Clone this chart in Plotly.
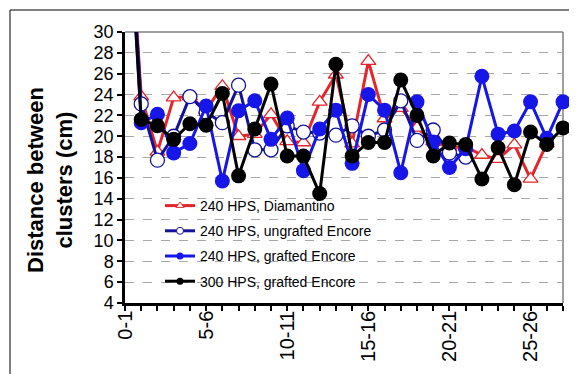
import plotly.graph_objects as go

categories = ["0-1", "1-2", "2-3", "3-4", "4-5", "5-6", "6-7", "7-8", "8-9", "9-10",
              "10-11", "11-12", "12-13", "13-14", "14-15", "15-16", "16-17", "17-18",
              "18-19", "19-20", "20-21", "21-22", "22-23", "23-24", "24-25", "25-26",
              "26-27", "27-28"]
label_every = 5

diamantino_240 = [48, 23.8, 18.5, 23.7, 23.8, 22.5, 24.8, 20.0, 20.2, 22.1,
                  19.5, 19.4, 23.3, 25.9, 19.3, 27.2, 21.7, 22.7, 20.8, 19.5,
                  18.9, 19.0, 18.2, 17.8, 19.2, 15.9, 19.3, None]
ungrafted_240 = [48, 23.1, 17.7, 20.0, 23.8, 22.3, 21.3, 24.9, 18.7, 18.7,
                 21.0, 20.4, 20.3, 20.1, 21.0, 20.0, 20.6, 23.4, 19.6, 20.6,
                 18.4, 18.0, None, None, None, None, None, None]
grafted_240 = [48, 21.3, 22.1, 18.4, 19.3, 22.9, 15.7, 22.45, 23.4, 19.7,
               21.75, 16.7, 20.7, 22.5, 17.4, 24.0, 22.5, 16.5, 23.3, 19.45,
               17.0, 18.8, 25.75, 20.2, 20.5, 23.3, 19.8, 23.3]
grafted_300 = [48, 21.6, 21.0, 19.7, 21.2, 21.05, 24.1, 16.2, 20.7, 25.0,
               18.1, 18.1, 14.5, 26.9, 18.1, 19.4, 19.4, 25.4, 22.0, 18.1,
               19.35, 19.2, 15.9, 18.9, 15.35, 20.4, 19.2, 20.8]

series_names = ["240 HPS, Diamantino", "240 HPS, ungrafted Encore",
                "240 HPS, grafted Encore", "300 HPS, grafted Encore"]

x_idx = list(range(len(categories)))
FONT = "Arial, Liberation Sans, sans-serif"

RED = "#E3262B"
NAVY = "#12129A"
BLUE = "#1616E8"
BLACK = "#000000"

styles = [
    dict(line=dict(color=RED, width=3),
         marker=dict(symbol="triangle-up", size=13, color="white", line=dict(color=RED, width=1.3))),
    dict(line=dict(color=NAVY, width=3),
         marker=dict(symbol="circle", size=14, color="white", line=dict(color=NAVY, width=1.3))),
    dict(line=dict(color=BLUE, width=3),
         marker=dict(symbol="circle", size=15, color=BLUE, line=dict(color=BLUE, width=0))),
    dict(line=dict(color=BLACK, width=3),
         marker=dict(symbol="circle", size=15, color=BLACK, line=dict(color=BLACK, width=0))),
]
legend_styles = [
    dict(line=dict(color=RED, width=3),
         marker=dict(symbol="triangle-up", size=7, color="white", line=dict(color=RED, width=1))),
    dict(line=dict(color=NAVY, width=3),
         marker=dict(symbol="circle", size=7, color="white", line=dict(color=NAVY, width=1))),
    dict(line=dict(color=BLUE, width=3),
         marker=dict(symbol="circle", size=7, color=BLUE)),
    dict(line=dict(color=BLACK, width=3),
         marker=dict(symbol="circle", size=7, color=BLACK)),
]

fig = go.Figure()
for name, ys, st in zip(series_names, [diamantino_240, ungrafted_240, grafted_240, grafted_300], styles):
    fig.add_trace(go.Scatter(x=x_idx, y=ys, mode="lines+markers", name=name,
                             showlegend=False, cliponaxis=False, connectgaps=False, **st))
for i, (name, st) in enumerate(zip(series_names, legend_styles)):
    fig.add_trace(go.Scatter(x=[None], y=[None], mode="lines+markers", name=name,
                             legendgroup=f"g{i}", showlegend=True, **st))

W, H = 577, 374
L, R, T, B = 117, 22, 24, 79
pw, ph = W - L - R, H - T - B

def px_x(v):
    return (v - L) / pw

def px_y(v):
    return (H - B - v) / ph

fig.update_layout(
    width=W, height=H,
    margin=dict(l=L, r=R, t=T, b=B),
    paper_bgcolor="white", plot_bgcolor="white",
    font=dict(family=FONT, color="black"),
    legend=dict(x=px_x(152), y=px_y(182), xanchor="left", yanchor="top",
                bgcolor="rgba(0,0,0,0)", borderwidth=0,
                font=dict(size=14, family=FONT, color="black"),
                traceorder="grouped", tracegroupgap=4),
    xaxis=dict(range=[0, len(categories) - 1], tickmode="array",
               tickvals=x_idx[::label_every], ticktext=categories[::label_every],
               tickangle=-90, tickfont=dict(size=20, family=FONT, color="black"),
               ticklabelstandoff=-8,
               ticks="outside", ticklen=5, tickwidth=2, tickcolor="black",
               minor=dict(dtick=1, tick0=0, ticks="outside", ticklen=5, tickwidth=2, tickcolor="black"),
               showgrid=False, zeroline=False, showline=True, linecolor="black", linewidth=2.5),
    yaxis=dict(range=[4, 30], dtick=2, tick0=4,
               tickfont=dict(size=18, family=FONT, color="black"),
               ticks="outside", ticklen=5, tickwidth=2, tickcolor="black",
               showgrid=True, gridcolor="#A8A8A8", griddash="dash", gridwidth=1,
               zeroline=False, showline=True, linecolor="black", linewidth=2.5),
    shapes=[
        dict(type="rect", xref="paper", yref="paper", x0=0.002, x1=px_x(370), y0=0.003, y1=px_y(194),
             fillcolor="white", line=dict(width=0), layer="between"),
        dict(type="line", xref="paper", yref="paper", x0=0, x1=1, y0=1, y1=1,
             line=dict(color="#808080", width=1.5), layer="below"),
        dict(type="line", xref="paper", yref="paper", x0=1, x1=1, y0=0, y1=1,
             line=dict(color="#808080", width=1.5), layer="below"),
        dict(type="rect", xref="paper", yref="paper", x0=px_x(2), x1=px_x(573), y0=px_y(371), y1=px_y(2),
             line=dict(color="black", width=1), fillcolor="rgba(0,0,0,0)", layer="above"),
    ],
    annotations=[
        dict(text="<b>Distance between<br>clusters (cm)</b>", textangle=-90,
             xref="paper", yref="paper", x=px_x(42), y=px_y(172),
             xanchor="center", yanchor="middle", showarrow=False,
             font=dict(size=22, family=FONT, color="black")),
    ],
)

fig.write_html("out.html")
